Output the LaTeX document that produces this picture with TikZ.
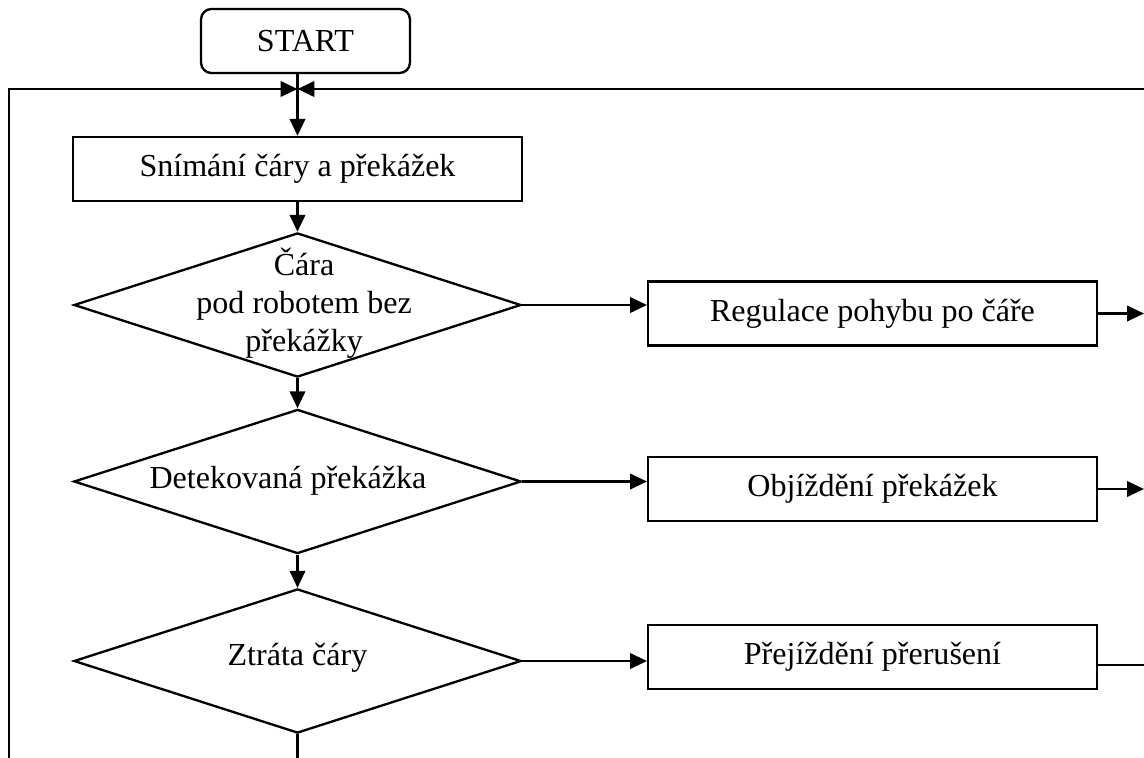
\documentclass[tikz,border=0pt]{standalone}
\usepackage{fontspec}
\setmainfont{Liberation Serif}
\usetikzlibrary{arrows.meta,shapes.geometric}

\begin{document}
\begin{tikzpicture}[
  x=0.0136cm, y=-0.0136cm, line width=0.9pt,
  every node/.style={font=\fontsize{12.4}{14.7}\selectfont},
  startbox/.style={draw, rounded corners=0.14cm, minimum width=2.84cm, minimum height=0.87cm, inner sep=0pt},
  block/.style={draw, minimum width=6.1cm, minimum height=0.87cm, inner sep=0pt},
  decision/.style={draw, diamond, minimum width=6.08cm, minimum height=1.96cm, inner sep=0pt},
  arrow/.style={-{Triangle[length=2.3mm, width=2.1mm]}}
]
\useasboundingbox (0,0) rectangle (1144,758);

\node[startbox] (start) at (305.5,41) {START};
\coordinate (join) at (297.5,89);
\node[block] (scan) at (297.5,169) {Snímání čáry a překážek};

\node[decision, label={[align=center, xshift=0.09cm, yshift=0.03cm]center:Čára\\pod robotem bez\\překážky}] (line) at (297.5,305) {};
\node[decision, label={[xshift=-0.13cm, yshift=0.01cm]center:Detekovaná překážka}] (obst) at (297.5,481.5) {};
\node[decision, label={[yshift=0.04cm]center:Ztráta čáry}] (lost) at (297.5,661) {};

\node[block] (follow) at (872.5,313.5) {Regulace pohybu po čáře};
\node[block] (avoid) at (872.5,489) {Objíždění překážek};
\node[block] (bridge) at (872.5,657) {Přejíždění přerušení};

% free ends at the picture border
\coordinate (loopL) at (9,758);
\coordinate (loopR) at (1144,89);
\coordinate (down) at (297.5,758);
\coordinate (out1) at (1144,313.5);
\coordinate (out2) at (1144,489);
\coordinate (out3) at (1144,665);

\draw (start.south -| join) -- (join);
\draw[arrow] (loopL) |- (join);
\draw[arrow] (loopR) -- (join);
\draw[arrow] (join) -- (scan.north);
\draw[arrow] (scan.south) -- (line.north);
\draw[arrow] (line.south) -- (obst.north);
\draw[arrow] (obst.south) -- (lost.north);
\draw (lost.south) -- (down);

\draw[arrow] (line.east) -- (line.east -| follow.west);
\draw[arrow] (obst.east) -- (obst.east -| avoid.west);
\draw[arrow] (lost.east) -- (lost.east -| bridge.west);

\draw[arrow] (follow.east) -- (out1);
\draw[arrow] (avoid.east) -- (out2);
\draw (bridge.east |- out3) -- (out3);
\end{tikzpicture}
\end{document}
